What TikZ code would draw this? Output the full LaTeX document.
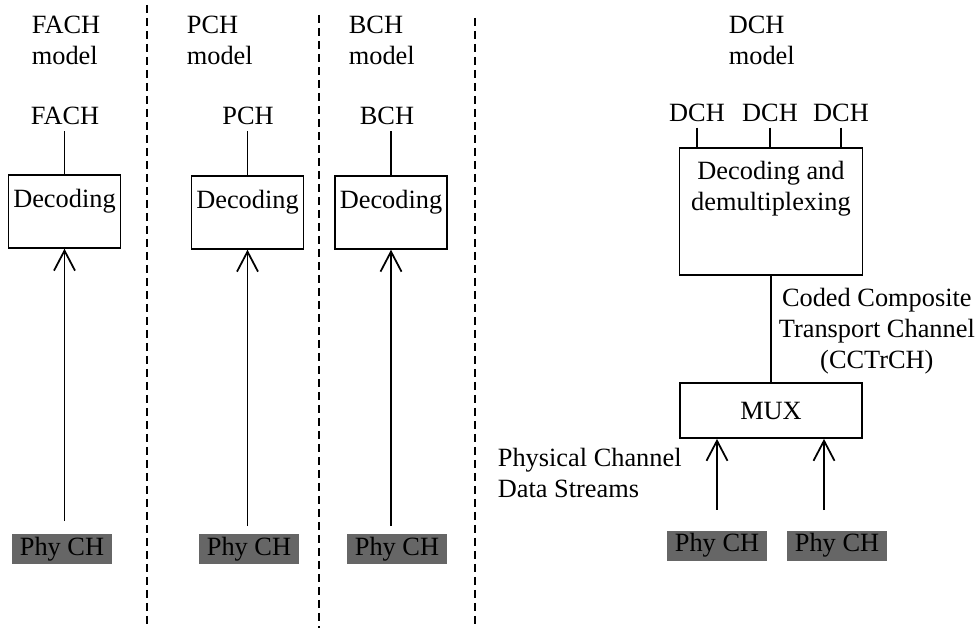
\documentclass[tikz,border=0pt]{standalone}
\usepackage{fontspec}
\setmainfont{Liberation Serif}
\usetikzlibrary{arrows.meta,positioning,calc}
\definecolor{phygray}{HTML}{666666}

\begin{document}
\begin{tikzpicture}[x=0.02cm, y=-0.02cm, line width=1pt,
  >={Straight Barb[length=0.4cm,width=0.42cm]},
  every node/.style={font=\fontsize{15}{17.6}\selectfont, inner sep=0pt},
  hdr/.style={anchor=north west, align=left},
  lbl/.style={inner sep=0.1cm},
  dec/.style={draw, anchor=north, minimum width=2.24cm, text height=0.66cm, text depth=0.8cm},
  phy/.style={fill=phygray, minimum width=2cm, minimum height=0.6cm},
  sep/.style={dash pattern=on 0.16cm off 0.1cm, line width=0.85pt}]
  \useasboundingbox (0,0) rectangle (976,628);

  % Separators between the models
  \draw[sep] (147,5) -- (147,628);
  \draw[sep] (319,15) -- (319,628);
  \draw[sep] (475,18) -- (475,628);

  % Model titles
  \node[hdr] (fachhdr) at (31,15) {FACH\\model};
  \node[hdr] (pchhdr) at (186,15) {PCH\\model};
  \node[hdr] (bchhdr) at (348,15) {BCH\\model};
  \node[hdr] (dchhdr) at (728,15) {DCH\\model};

  % Transport channels and decoding boxes
  \node[lbl] (fachlbl) at (65,116) {FACH};
  \node[lbl] (pchlbl) at (248,116) {PCH};
  \node[lbl] (bchlbl) at (387,116) {BCH};
  \node[dec] (fachdec) at (64.5,174) {Decoding};
  \node[dec] (pchdec) at (247.5,175) {Decoding};
  \node[dec] (bchdec) at (391,175) {Decoding};

  % Physical channels
  \node[phy] (fachphy) at (62,549) {Phy CH};
  \node[phy] (pchphy) at (249,549) {Phy CH};
  \node[phy] (bchphy) at (397,549) {Phy CH};

  % Lines for the FACH, PCH and BCH models
  \draw (fachdec.north) -- (fachdec.north |- fachlbl.south);
  \draw (pchdec.north) -- (pchdec.north |- pchlbl.south);
  \draw (bchdec.north) -- (bchdec.north |- bchlbl.south);
  \draw[->, shorten <=0.24cm] (fachphy.north -| fachdec.south) -- (fachdec.south);
  \draw[->, shorten <=0.14cm] (pchphy.north -| pchdec.south) -- (pchdec.south);
  \draw[->, shorten <=0.14cm] (bchphy.north -| bchdec.south) -- (bchdec.south);

  % DCH model
  \node[lbl] (dcha) at (697,113) {DCH};
  \node[lbl] (dchb) at (770,113) {DCH};
  \node[lbl] (dchc) at (841,113) {DCH};
  \node[draw, anchor=north, minimum width=3.66cm, minimum height=2.54cm] (dchdec) at (771,147) {};
  \node[anchor=north, align=center] (dchdectxt) at (771,160) {Decoding and\\demultiplexing};
  \node[draw, minimum width=3.64cm, minimum height=1.1cm] (mux) at (771,410.5) {MUX};
  \node[anchor=north west, align=center] (cctrch) at (778,287) {Coded Composite\\Transport Channel\\(CCTrCH)};
  \node[hdr] (pcds) at (497,447) {Physical Channel\\Data Streams};
  \node[phy] (dchphya) at (717,545.5) {Phy CH};
  \node[phy] (dchphyb) at (837,545.5) {Phy CH};
  \coordinate (muxin) at (824,510);

  % Lines for the DCH model
  \draw (dcha.south) -- (dcha.south |- dchdec.north);
  \draw (dchb.south) -- (dchb.south |- dchdec.north);
  \draw (dchc.south) -- (dchc.south |- dchdec.north);
  \draw (dchdec.south) -- (mux.north);
  \draw[->, shorten <=0.4cm] (dchphya.north) -- (dchphya.north |- mux.south);
  \draw[->] (muxin) -- (muxin |- mux.south);
\end{tikzpicture}
\end{document}
